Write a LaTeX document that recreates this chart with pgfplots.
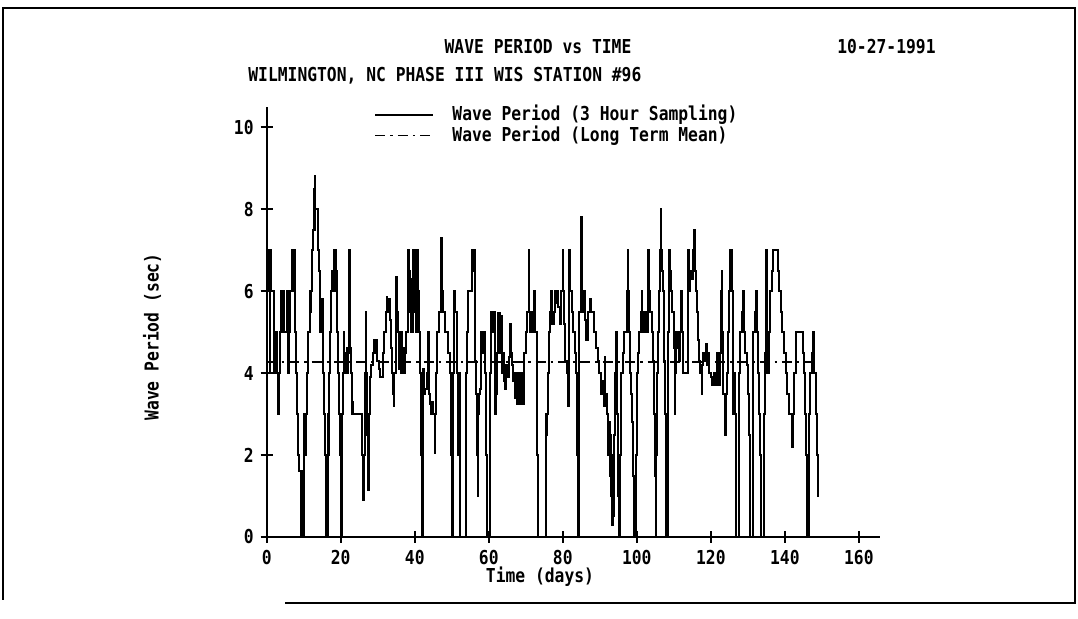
\documentclass[border=0pt]{standalone}
\usepackage{fontspec}
\setmainfont{DejaVu Sans Mono}[FakeStretch=0.85]
\usepackage{pgfplots}
\pgfplotsset{compat=1.18}
\begin{document}
\begin{tikzpicture}[font=\bfseries\fontsize{9.6}{11}\selectfont]
\useasboundingbox (0,0) rectangle (539pt,309.5pt);
% outer frame
\draw[line width=0.9pt] (1.5pt,9.5pt) -- (1.5pt,305.5pt) -- (538pt,305.5pt);
\draw[line width=0.6pt] (537.5pt,305.5pt) -- (537.5pt,8pt) -- (142.5pt,8pt);
% titles
\node at (269pt,286pt) {WAVE PERIOD vs TIME};
\node[anchor=east, inner sep=0pt] at (468pt,286pt) {10-27-1991};
\node[anchor=west, inner sep=0pt] at (124pt,271.5pt) {WILMINGTON, NC PHASE III WIS STATION \#96};
\node[rotate=90] at (76pt,141pt) {Wave Period (sec)};
\node at (270pt,21pt) {Time (days)};
\begin{axis}[
  at={(133.35pt,41pt)}, anchor=south west,
  scale only axis, width=306.65pt, height=215.15pt,
  xmin=0, xmax=165.7, ymin=0, ymax=10.5,
  axis x line*=bottom, axis y line*=left,
  axis line style={line width=1pt, -},
  xtick={0,20,...,160}, ytick={0,2,...,10},
  tick align=center, major tick length=6pt,
  tick style={line width=0.9pt, black},
  /pgf/number format/assume math mode=true,
  tick label style={font=\bfseries\fontsize{9.6}{11}\selectfont},
  clip=false,
  legend style={at={(axis cs:29,10.64)}, anchor=north west, draw=none, fill=none,
    inner sep=0pt, font=\bfseries\fontsize{9.6}{11}\selectfont,
    row sep=-2.8pt},
  legend cell align=left,
  legend image code/.code={\draw[#1] (0pt,0pt) -- (29pt,0pt); \path (36pt,0pt);},
]
\addplot[const plot, black, line width=1pt] coordinates {
(0,7)(0.15,6)(0.3,7)(0.45,6)(0.6,7)(0.8,4)(0.95,7)(1.1,6)(1.9,5)(2.05,4)(2.6,5)(2.75,4)
(3.0,3)(3.25,4)(3.6,5)(3.9,6)(4.1,5)(4.4,6)(4.55,5)(5.6,6)(5.75,4)(5.95,5)(6.4,6)(6.9,7)
(7.05,6)(7.2,7)(7.4,6)(7.55,7)(7.7,5)(7.85,4)(8.2,3)(8.5,2)(8.75,1.6)(9.3,0)(9.45,1.6)
(9.6,0)(9.8,0)(10.0,2)(10.2,3)(10.4,2)(10.55,3)(11.0,4)(11.2,5)(11.6,6)(11.8,5.5)(12.0,6)
(12.2,7)(12.45,7.5)(12.7,8.5)(12.85,7.5)(13.0,8.8)(13.15,8)(13.9,7)(14.1,6.5)(14.4,5)
(14.9,5.8)(15.1,5)(15.3,4)(15.5,3)(15.7,2)(15.9,1)(16.1,0)(16.3,1)(16.45,0)(16.6,3)
(16.8,2)(16.95,4)(17.15,5)(17.35,6)(17.6,6.5)(17.9,6)(18.1,7)(18.25,6)(18.4,7)(18.7,6.5)
(19.0,5)(19.3,4)(19.6,3)(19.9,2)(20.1,0)(20.4,3)(20.55,4)(20.75,5)(20.9,4)(21.2,4.5)
(21.4,4.2)(21.6,4.6)(21.8,4)(22.1,4.5)(22.25,7)(22.4,4.6)(22.7,4)(23.1,3)(23.3,3.3)
(23.45,3)(25.8,2)(26.0,0.9)(26.25,2)(26.5,4)(26.7,5.5)(26.85,4)(27.1,2.5)(27.4,1.15)
(27.7,3)(28.0,3.9)(28.3,4.2)(28.6,4.5)(28.9,4.8)(29.2,4.5)(29.6,4.8)(29.9,4.3)(30.3,4.1)
(30.6,3.9)(31.4,4.5)
(31.8,5)(32.2,5.5)(32.4,5.85)(32.6,5.5)(32.9,5.8)(33.2,5.3)(33.5,4.6)(33.8,4)(34.1,3.5)
(34.3,3.2)(34.5,4)(34.8,5.5)(35.0,6.35)(35.2,5.5)(35.5,5)(35.7,4.1)(35.85,5)(36.0,4.1)
(36.15,4.8)(36.3,4)(36.5,5)(36.65,4)(36.8,4.6)(37.0,4)(37.3,4.5)(37.6,5)(38.1,6)(38.25,7)
(38.4,6)(38.55,6.5)(38.7,5.5)(38.85,6.3)(39.0,5)(39.5,7)(39.65,6)(39.8,7)(39.95,5.5)
(40.1,6.5)(40.3,5)(40.6,7)(40.75,5.5)(40.9,6)(41.1,5)(41.4,4)(41.7,2)(41.9,0)(42.1,3)
(42.3,4.1)(42.6,3.5)(42.9,3.6)(43.3,4)(43.6,5)(43.8,3.5)(44.0,3.25)(44.4,3)(44.7,3.3)
(45.0,3)(45.4,2.04)(45.6,3)(45.8,4)(46.0,5)(46.5,5.5)(47.0,6)(47.2,7.3)(47.4,6)(47.6,5.5)
(48.3,5)(48.9,4.5)(49.4,4)(49.8,2)(50.0,0)(50.3,4)(50.5,6)(50.65,5.5)(50.8,6)(51.0,5.5)
(51.3,4)(51.6,2)(51.8,4)(52.1,3)(52.3,0)(53.8,4)(54.0,5)(54.5,6)(55.4,6.5)(55.55,7)
(55.8,6.5)(56.0,7)(56.3,4.3)(56.6,3.5)(56.8,2)(57.0,1)(57.2,3)(57.4,3.5)(57.6,3.6)(57.8,5)
(58.3,4.5)(58.6,5)(59.0,4)(59.3,2)(59.5,0)(60.2,2)(60.4,4)(60.7,5.5)(61.0,5)(61.2,5.5)
(61.6,4.5)(61.8,3)(62.0,3.5)(62.3,4.5)(62.6,5.46)(62.9,4.5)(63.2,5.4)(63.5,4)
(63.8,4.5)(64.1,3.8)(64.4,3.6)(64.7,4.2)(65.0,3.9)(65.4,4.4)(65.8,5.2)(66.0,4.5)(66.2,4.2)
(66.5,3.8)(66.8,4)(67.1,3.4)(67.4,4)(67.6,3.25)(67.8,3.9)(68.0,3.25)(68.2,4)(68.4,3.25)
(68.6,3.8)(68.8,3.25)(69.1,4)(69.3,3.25)(69.6,4.5)(70.0,5)(70.4,5.5)(70.75,7)(70.95,5.5)
(71.2,5)(71.6,5.5)(72.0,5)(72.3,6)(72.55,5)(72.9,4)(73.1,2)(73.3,0)(75.5,3)(75.7,2.5)
(75.85,3)(76.0,4)(76.2,5)(76.6,5.5)(76.8,6)(77.1,5.2)(77.5,5.5)(77.8,6)(78.2,5.7)(78.4,6)
(78.8,5.6)(79.2,5.2)(79.6,6)(79.95,7)(80.15,6)(80.4,5.2)(80.7,4.3)(81.0,4)(81.3,3.2)
(81.6,4)(81.8,7)(82.0,6)(82.4,5.5)(82.8,5)(83.2,4.5)(83.6,4)(83.9,2)(84.05,0)(84.3,4)
(84.5,5.5)(84.8,7)(84.95,7.8)(85.1,6)(85.4,5.5)(85.7,6)(86.0,5.3)(86.4,4.8)(86.8,5.5)
(87.4,5.8)(87.7,5.5)(88.3,5)(88.9,4.6)(89.4,4.3)(89.8,4)(90.2,3.5)(90.6,3.8)(91.0,3.2)
(91.3,4.4)(91.5,3.2)(91.8,3.5)(92.0,3)(92.3,2)(92.5,2.8)(92.7,1.5)(92.85,2.5)(93.0,1)
(93.15,2)(93.3,0.3)(93.45,1.8)(93.6,0.5)(93.8,2.5)(94.0,3)(94.2,4)(94.4,5)(94.6,3)
(94.8,2)(95.0,1)(95.2,0)(95.4,2)(95.6,3.5)(95.8,4)(96.2,4.5)(96.6,5)(97.3,6)(97.5,7)
(97.7,6)(97.9,5)(98.2,4)(98.5,3.5)(98.8,2.8)(99.1,1.5)(99.3,0)(99.8,2)(100.0,4)(100.3,4.5)
(100.6,5)(101.0,5.5)(101.3,6)(101.5,5)(102.0,5.5)(102.5,5)(102.9,6)(103.1,7)(103.3,6)
(103.6,5.5)(104.0,5)(104.4,4.3)(104.7,3)(104.9,1.5)(105.05,0)(105.3,2)(105.5,4)(105.8,5)
(106.0,6)(106.25,7)(106.4,8)(106.55,7)(106.8,6.5)(107.0,6)(107.3,4.3)(107.6,3)(107.8,2)
(108.0,0)(108.3,1.5)(108.5,5)(108.7,7)(108.9,6.5)(109.2,6)(109.6,5.5)(110.0,4.6)(110.2,3)
(110.4,4)(110.6,5)(111.0,4.6)(111.3,4.3)(111.6,5)(111.9,6)(112.1,5)(112.4,4)(113.8,5)
(113.95,7)(114.1,6)(114.4,6.5)(114.8,6.3)(115.1,7)(115.4,7.5)(115.6,6.5)(115.9,6)
(116.2,5.5)(116.5,4.8)(116.8,4.3)(117.1,4)(117.5,3.5)(117.7,4.2)(118.0,4.5)(118.3,4.3)
(118.6,4.7)(118.9,4.2)(119.2,4.5)(119.5,4)(120.0,3.9)(120.4,3.7)(120.8,4)(121.2,3.7)
(121.6,4.5)(122.0,4.2)(122.3,3.7)(122.6,4.5)(122.8,6)(122.95,6.5)(123.1,5)(123.4,3.5)
(123.7,2.5)(124.0,3.5)(124.4,4)(124.7,5)(125.0,6)(125.3,7)(125.6,6)(125.9,4.5)(126.1,3)
(126.4,4)(126.6,3)(126.8,0)(127.7,4)(127.9,5)(128.3,5.5)(128.6,6)(128.9,5)(129.3,4.5)
(129.7,4.2)(130.0,3.5)(130.3,2.5)(130.6,0)(131.3,4)(131.5,5)(131.9,5.5)(132.1,6)(132.4,5)
(132.7,4)(133.0,3)(133.3,2)(133.6,0)(134.4,3)(134.6,4.5)(134.8,5)(135.0,7)(135.3,4)
(135.6,5)(135.9,6)(136.4,6.5)(136.8,7)(138.2,6.5)(138.5,6)(138.9,5.5)(139.3,5)(139.7,4.5)
(140.2,4)(140.7,3.5)(141.2,3)(141.9,2.2)(142.1,3)(142.5,4)(142.9,4.5)(143.1,5)(144.8,4.5)
(145.1,4)(145.5,3)(145.8,2)(146.1,0)(146.6,3)(146.8,4)(147.2,4.5)(147.6,5)(148.0,4)
(148.3,3)(148.7,2)(149.0,1)(149.3,1)
};
\addlegendentry{Wave Period (3 Hour Sampling)}
\addplot[black, line width=0.8pt, dash pattern=on 5pt off 2.5pt on 1.2pt off 2.5pt] coordinates {(0,4.27)(148.5,4.27)};
\addlegendentry{Wave Period (Long Term Mean)}
\end{axis}
\end{tikzpicture}
\end{document}
